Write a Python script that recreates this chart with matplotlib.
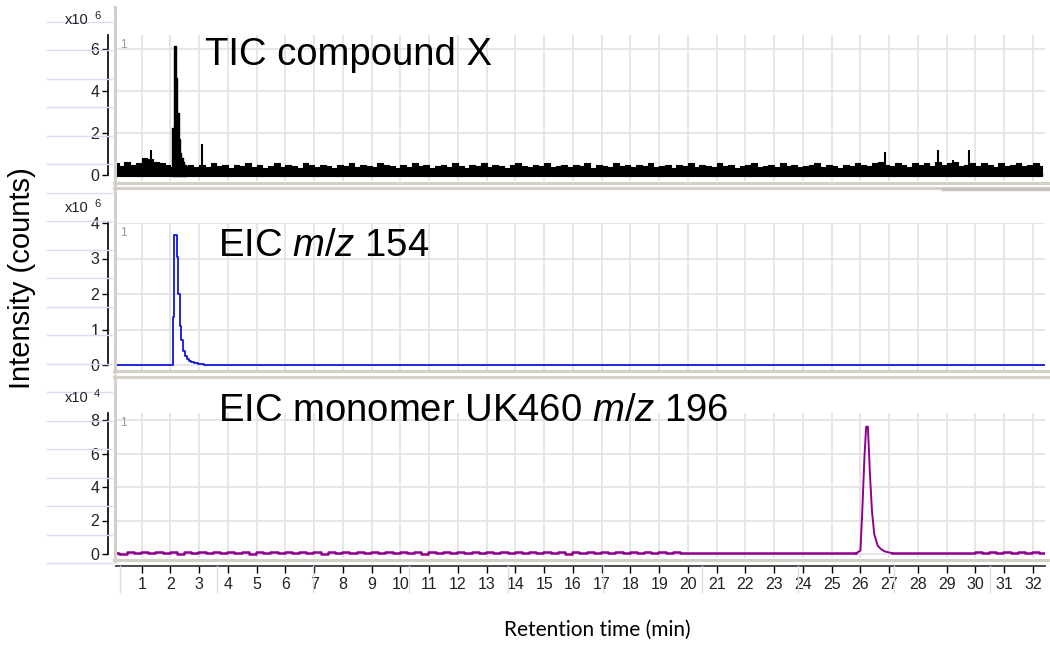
import matplotlib.pyplot as plt
import numpy as np
from matplotlib.lines import Line2D

# --- data ---
# TIC, upper edge of the noise band (x1e6), sampled every 0.2 min from 0.1 min
tic_top = [
    0.55, 0.45, 0.60, 0.50, 0.55, 0.80, 0.75, 0.60, 0.55, 0.50,
    0.40, 0.50, 0.45, 0.50, 0.40, 0.50, 0.40, 0.55, 0.45, 0.50,
    0.35, 0.50, 0.45, 0.55, 0.40, 0.50, 0.35, 0.45, 0.55, 0.40,
    0.50, 0.45, 0.35, 0.55, 0.50, 0.40, 0.50, 0.45, 0.35, 0.50,
    0.45, 0.55, 0.40, 0.50, 0.45, 0.40, 0.55, 0.50, 0.45, 0.35,
    0.50, 0.40, 0.55, 0.45, 0.50, 0.35, 0.45, 0.50, 0.40, 0.55,
    0.45, 0.35, 0.50, 0.45, 0.55, 0.40, 0.50, 0.45, 0.35, 0.50,
    0.55, 0.45, 0.40, 0.50, 0.45, 0.55, 0.40, 0.45, 0.50, 0.40,
    0.50, 0.45, 0.55, 0.35, 0.50, 0.45, 0.40, 0.55, 0.45, 0.50,
    0.40, 0.50, 0.45, 0.55, 0.40, 0.45, 0.50, 0.35, 0.50, 0.45,
    0.55, 0.40, 0.50, 0.45, 0.40, 0.55, 0.45, 0.50, 0.35, 0.45,
    0.50, 0.55, 0.40, 0.45, 0.50, 0.40, 0.55, 0.45, 0.50, 0.40,
    0.45, 0.50, 0.55, 0.40, 0.50, 0.45, 0.35, 0.50, 0.45, 0.55,
    0.50, 0.45, 0.55, 0.60, 0.50, 0.45, 0.55, 0.50, 0.40, 0.55,
    0.50, 0.55, 0.45, 0.60, 0.50, 0.55, 0.60, 0.45, 0.50, 0.55,
    0.45, 0.55, 0.50, 0.40, 0.55, 0.45, 0.50, 0.55, 0.45, 0.50,
    0.55, 0.45,
]
tic_time = 0.1 + 0.2 * np.arange(len(tic_top))

# main TIC peak (x1e6)
tic_peak_t = [2.04, 2.09, 2.13, 2.18, 2.23, 2.28, 2.33, 2.37, 2.42, 2.48, 2.55]
tic_peak_v = [2.25, 0.30, 6.15, 4.60, 2.95, 1.70, 1.05, 0.80, 0.60, 0.50, 0.45]

# isolated TIC spikes (x1e6)
tic_spike_t = [1.31, 3.09, 26.85, 28.69, 29.22, 29.78]
tic_spike_v = [1.20, 1.50, 1.10, 1.20, 0.70, 1.20]

# EIC m/z 154 (x1e6)
eic154_t = [0.05, 2.08, 2.12, 2.22, 2.26, 2.33, 2.37, 2.43, 2.49, 2.56,
            2.63, 2.71, 2.81, 2.95, 3.17, 32.5]
eic154_v = [0.00, 1.35, 3.65, 3.05, 2.00, 1.10, 0.70, 0.40, 0.25, 0.17,
            0.12, 0.08, 0.05, 0.04, 0.00, 0.00]

# EIC m/z 196 baseline (x1e4), every 0.25 min from 0.1 min
eic196_base = [
    0.08, 0.02, 0.12, 0.04, 0.10, 0.03, 0.13, 0.06, 0.11, 0.02,
    0.09, 0.04, 0.12, 0.05, 0.10, 0.03, 0.11, 0.06, 0.13, 0.02,
    0.09, 0.05, 0.12, 0.03, 0.10, 0.06, 0.13, 0.04, 0.11, 0.02,
    0.10, 0.05, 0.12, 0.03, 0.09, 0.06, 0.13, 0.04, 0.11, 0.03,
    0.10, 0.05, 0.12, 0.02, 0.09, 0.06, 0.11, 0.04, 0.13, 0.03,
    0.10, 0.05, 0.12, 0.04, 0.09, 0.06, 0.11, 0.03, 0.12, 0.05,
    0.10, 0.04, 0.13, 0.02, 0.11, 0.06, 0.09, 0.04, 0.12, 0.03,
    0.10, 0.05, 0.11, 0.04, 0.12, 0.03, 0.09, 0.06, 0.10, 0.04,
    0.06, 0.05, 0.06, 0.05, 0.07, 0.05, 0.06, 0.05, 0.06, 0.05,
    0.05, 0.06, 0.05, 0.06, 0.05, 0.05, 0.06, 0.05, 0.06, 0.05,
    0.05, 0.05, 0.05, 0.06, 0.05, 0.05, 0.05, 0.05, 0.05, 0.06,
    0.05, 0.05, 0.05, 0.05, 0.06, 0.05, 0.05, 0.05, 0.05, 0.06,
    0.09, 0.04, 0.11, 0.05, 0.10, 0.03, 0.12, 0.06, 0.09, 0.04,
    0.11, 0.05,
]
eic196_base_t = 0.1 + 0.25 * np.arange(len(eic196_base))
eic196_peak_t = [25.85, 26.00, 26.06, 26.14, 26.20, 26.26, 26.33, 26.40,
                 26.48, 26.60, 26.71, 26.85, 27.10]
eic196_peak_v = [0.05, 0.20, 2.40, 5.80, 7.60, 7.60, 4.80, 2.60,
                 1.20, 0.50, 0.30, 0.15, 0.05]

titles = ["TIC compound X", "EIC $m/z$ 154", "EIC monomer UK460 $m/z$ 196"]
exponents = ["6", "6", "4"]
yticks = [[0, 2, 4, 6], [0, 1, 2, 3, 4], [0, 2, 4, 6, 8]]
xticks = list(range(1, 33))

# --- layout helpers (pixel -> figure fraction) ---
W, H = 1050, 648


def fx(px):
    return px / W


def fy(py):
    return 1 - py / H


plt.rcParams["font.family"] = ["Liberation Sans", "DejaVu Sans"]
plt.rcParams["mathtext.fontset"] = "custom"
plt.rcParams["mathtext.it"] = "Liberation Sans:italic"
plt.rcParams["mathtext.rm"] = "Liberation Sans"

fig = plt.figure(figsize=(10.5, 6.48), dpi=100)

frame_grey = "#d4d0c8"
grid_grey = "#e2e2e2"
lavender = "#dcdcf0"
tick_font = ["Liberation Sans", "DejaVu Sans"]

# faint decorative rulings left of the axes
for yy in np.linspace(22, 563, 20):
    fig.add_artist(Line2D([fx(47), fx(112)], [fy(yy), fy(yy)],
                          color=lavender, lw=1.0))
for xx in [120, 217, 313, 409, 508, 603, 702, 798, 894, 990]:
    fig.add_artist(Line2D([fx(xx), fx(xx)], [fy(566), fy(592)],
                          color=lavender, lw=1.0))

# panel geometry: (top px, bottom px, zero px, px per unit)
panels = [(35, 181, 175, 21.0), (223, 370, 365, 35.5), (413, 558, 554, 16.75)]
frames = [(7, 184), (187, 372), (376, 561)]

axes = []
for k, (top, bot, zero, ppu) in enumerate(panels):
    ax = fig.add_axes([fx(116), fy(bot), fx(1045) - fx(116), (bot - top) / H])
    ax.set_xlim(0.106, 32.42)
    ymin = -(bot - zero) / ppu
    ymax = (zero - top) / ppu
    ax.set_ylim(ymin, ymax)
    ax.set_xticks(xticks)
    ax.set_yticks(yticks[k])
    ax.grid(True, color=grid_grey, lw=1.2)
    ax.set_axisbelow(True)
    for s in ["top", "right", "bottom"]:
        ax.spines[s].set_visible(False)
    ax.spines["left"].set_position(("outward", 6))
    ax.spines["left"].set_bounds(0, ymax)
    ax.spines["left"].set_linewidth(1.2)
    ax.tick_params(axis="y", length=4, width=1, pad=2, labelsize=11.5,
                   labelfontfamily=tick_font, labelcolor="#222222")
    ax.tick_params(axis="x", length=0, labelbottom=False)
    axes.append(ax)

    # grey panel frames
    ftop, fbot = frames[k]
    fig.add_artist(Line2D([fx(114.5), fx(114.5)], [fy(ftop), fy(fbot)],
                          color=frame_grey, lw=2.2))
    if k > 0:
        fig.add_artist(Line2D([fx(114), fx(1050)], [fy(ftop + 1), fy(ftop + 1)],
                              color=frame_grey, lw=2.2))
    fig.add_artist(Line2D([fx(114), fx(1050)], [fy(fbot - 1), fy(fbot - 1)],
                          color=frame_grey, lw=2.2))

    # "x10^n" scale labels and trace number
    fig.text(fx(89), fy(top - 11), "x10", ha="right", va="baseline",
             fontsize=10.5, family=tick_font, color="#222222")
    fig.text(fx(94), fy(top - 16), exponents[k], ha="left", va="baseline",
             fontsize=8, family=tick_font, color="#222222")
    fig.text(fx(120), fy(top + 13), "1", ha="left", va="baseline",
             fontsize=8.5, family=tick_font, color="#9a9a9a")

# darker segment at the top right of the second panel
fig.add_artist(Line2D([fx(943), fx(1050)], [fy(189), fy(189)],
                      color="#c8c4bc", lw=2.5))

# TIC
ax1 = axes[0]
ax1.fill_between(tic_time, -0.05, tic_top, step="mid", color="black", lw=0.8)
ax1.fill_between(tic_peak_t, -0.05, tic_peak_v, step="post", color="black",
                 lw=1.0, edgecolor="black")
ax1.vlines(tic_spike_t, 0, tic_spike_v, color="black", lw=1.5)

# EIC 154
ax2 = axes[1]
ax2.plot(eic154_t, eic154_v, color="#1414dc", lw=1.3, drawstyle="steps-post")

# EIC 196: noisy baseline drawn as steps, the peak as a plain line
ax3 = axes[2]
base_v = np.array(eic196_base)
before = eic196_base_t < eic196_peak_t[0]
after = eic196_base_t > eic196_peak_t[-1]
purple = "#900090"
ax3.plot(np.append(eic196_base_t[before], eic196_peak_t[0]),
         np.append(base_v[before], eic196_peak_v[0]),
         color=purple, lw=1.8, drawstyle="steps-mid")
ax3.plot(np.insert(eic196_base_t[after], 0, eic196_peak_t[-1]),
         np.insert(base_v[after], 0, eic196_peak_v[-1]),
         color=purple, lw=1.8, drawstyle="steps-mid")
ax3.plot(eic196_peak_t, eic196_peak_v, color=purple, lw=1.4)

# bottom time axis
ax3.spines["bottom"].set_visible(True)
ax3.spines["bottom"].set_position(("outward", 6))
ax3.spines["bottom"].set_color("#3a3a3a")
ax3.spines["bottom"].set_linewidth(1.3)
ax3.tick_params(axis="x", length=5, width=1, pad=3, labelbottom=True,
                labelsize=11.5, labelfontfamily=tick_font, labelcolor="#222222")

# titles
for k, (bl, txt) in enumerate(zip([65, 256, 421], titles)):
    x0 = 205 if k == 0 else 218
    fig.text(fx(x0), fy(bl), txt, fontsize=27.5, ha="left", va="baseline")

fig.text(fx(22), fy(278), "Intensity (counts)", rotation=90, ha="center",
         va="center", fontsize=21)
fig.text(fx(597), fy(630), "Retention time (min)", ha="center", va="center",
         fontsize=15, family=["Lato", "DejaVu Sans"])

fig.savefig("out.png", dpi=100)
